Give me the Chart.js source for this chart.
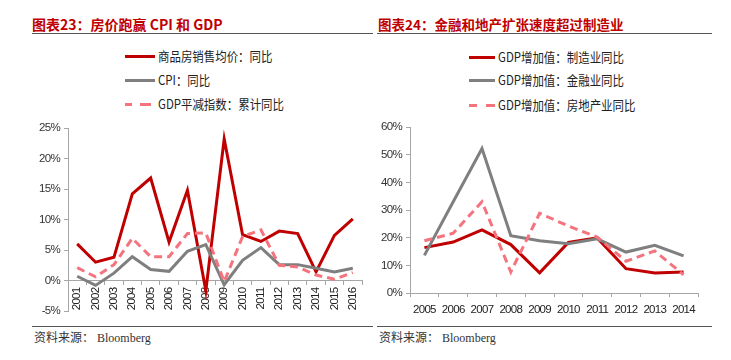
<!DOCTYPE html>
<html><head><meta charset="utf-8">
<script src="https://cdn.jsdelivr.net/npm/chart.js@4.4.1/dist/chart.umd.min.js"></script>
<style>
html,body{margin:0;padding:0;background:#fff;width:731px;height:360px;overflow:hidden;position:relative;font-family:"Noto Sans CJK SC",sans-serif;}
.abs{position:absolute;}
.title{color:#C00000;font-size:14px;line-height:18px;font-weight:bold;white-space:nowrap;font-family:"Noto Sans CJK SC",sans-serif;}
.rule{height:1px;background:#555;}
.leg{font-size:13px;line-height:16px;color:#222;white-space:nowrap;transform:scaleX(0.88);transform-origin:left center;}
.sw{height:0;border-top:3px solid;}
.foot{font-size:12px;line-height:16px;color:#333;white-space:nowrap;font-family:"Liberation Serif","Noto Sans CJK SC",serif;}
</style></head>
<body>
<div class="abs title" style="left:32px;top:15px;">图表23：房价跑赢 CPI 和 GDP</div>
<div class="abs title" style="left:378px;top:15px;font-size:13.5px;">图表24：金融和地产扩张速度超过制造业</div>
<div class="abs rule" style="left:32px;top:33px;width:341px;"></div>
<div class="abs rule" style="left:377px;top:33px;width:335px;"></div>

<div class="abs sw" style="left:125px;top:55px;width:30px;border-color:#C00000;"></div>
<div class="abs leg" style="left:158px;top:48px;">商品房销售均价：同比</div>
<div class="abs sw" style="left:125px;top:79px;width:30px;border-color:#7F7F7F;"></div>
<div class="abs leg" style="left:158px;top:72px;">CPI：同比</div>
<div class="abs sw" style="left:125px;top:103px;width:30px;border-top:3px dashed #F4737D;border-image:repeating-linear-gradient(90deg,#F4737D 0 9px,transparent 9px 15px) 3;"></div>
<div class="abs leg" style="left:158px;top:96px;">GDP平减指数：累计同比</div>

<div class="abs sw" style="left:469px;top:56px;width:26px;border-color:#C00000;"></div>
<div class="abs leg" style="left:498px;top:49px;">GDP增加值：制造业同比</div>
<div class="abs sw" style="left:469px;top:79px;width:26px;border-color:#7F7F7F;"></div>
<div class="abs leg" style="left:498px;top:72px;">GDP增加值：金融业同比</div>
<div class="abs sw" style="left:469px;top:104px;width:26px;border-top:3px dashed #F4737D;border-image:repeating-linear-gradient(90deg,#F4737D 0 9px,transparent 9px 16px) 3;"></div>
<div class="abs leg" style="left:498px;top:97px;">GDP增加值：房地产业同比</div>

<div class="abs" style="left:0;top:110px;width:365px;height:212px;"><canvas id="c1" width="365" height="212"></canvas></div>
<div class="abs" style="left:365px;top:110px;width:366px;height:212px;"><canvas id="c2" width="366" height="212"></canvas></div>

<div class="abs rule" style="left:32px;top:326px;width:341px;"></div>
<div class="abs rule" style="left:377px;top:326px;width:335px;"></div>
<div class="abs foot" style="left:34px;top:330px;">资料来源： Bloomberg</div>
<div class="abs foot" style="left:379px;top:330px;">资料来源： Bloomberg</div>

<script>
// ---- Chart 23 data ----
const yearsLeft = ['2001','2002','2003','2004','2005','2006','2007','2008','2009','2010','2011','2012','2013','2014','2015','2016'];
const housePriceYoY = [6.0, 3.0, 3.8, 14.2, 16.8, 6.3, 14.8, -1.7, 23.2, 7.5, 6.4, 8.1, 7.7, 1.4, 7.4, 10.1];
const cpiYoY = [0.7, -0.8, 1.2, 3.9, 1.8, 1.5, 4.8, 5.9, -0.7, 3.3, 5.4, 2.6, 2.6, 2.0, 1.4, 2.0];
const gdpDeflatorYoY = [2.1, 0.6, 2.6, 6.9, 3.9, 3.9, 7.7, 7.8, -0.2, 7.2, 8.3, 2.5, 2.2, 0.9, 0.2, 1.3];
const leftTicks = [-5, 0, 5, 10, 15, 20, 25];

// ---- Chart 24 data ----
const yearsRight = ['2005','2006','2007','2008','2009','2010','2011','2012','2013','2014'];
const manufacturingYoY = [16.4, 18.4, 22.8, 17.5, 7.3, 18.3, 19.9, 8.8, 7.2, 7.6];
const financeYoY = [13.6, 33.0, 52.2, 20.7, 18.9, 17.8, 19.6, 14.8, 17.2, 13.4];
const realEstateYoY = [18.9, 21.6, 33.0, 7.6, 28.8, 24.2, 20.2, 11.5, 15.2, 6.6];
const rightTicks = [0, 10, 20, 30, 40, 50, 60];

const RED = '#C00000', GRAY = '#7F7F7F', PINK = '#F4737D', AXIS = '#A6A6A6';
const TICKFONT = {family: '"Liberation Sans",sans-serif', size: 11.5};

const narrowText = {
  id: 'narrowText',
  beforeUpdate(chart) { chart.ctx.letterSpacing = '-0.7px'; },
  beforeDraw(chart) { chart.ctx.letterSpacing = '-0.7px'; }
};

function ds(label, data, color, dashed) {
  return {label, data, borderColor: color, backgroundColor: color, borderWidth: 3,
    borderDash: dashed ? [8, 5] : [], pointRadius: 0, tension: 0, fill: false};
}

new Chart(document.getElementById('c1'), {
  type: 'line',
  plugins: [narrowText],
  data: {labels: yearsLeft, datasets: [
    ds('GDP平减指数：累计同比', gdpDeflatorYoY, PINK, true),
    ds('CPI：同比', cpiYoY, GRAY, false),
    ds('商品房销售均价：同比', housePriceYoY, RED, false)
  ]},
  options: {
    responsive: false, animation: false, devicePixelRatio: 1,
    layout: {padding: {left: 0, right: 3, top: 18, bottom: 11}},
    plugins: {legend: {display: false}, tooltip: {enabled: false}},
    scales: {
      y: {min: -5, max: 25, afterBuildTicks: s => { s.ticks = leftTicks.map(v => ({value: v})); },
        afterFit: s => { s.width = 68; s.paddingTop = 0; s.paddingBottom = 0; },
        ticks: {callback: v => v + '%', color: '#333', font: TICKFONT, padding: 4},
        grid: {drawOnChartArea: false, drawTicks: true, tickLength: 4, color: AXIS},
        border: {color: AXIS, width: 1}},
      x: {position: {y: 0}, offset: true,
        afterFit: s => { s.paddingLeft = 0; s.paddingRight = 0; },
        ticks: {minRotation: 90, maxRotation: 90, autoSkip: false, color: '#222', font: TICKFONT, padding: 3},
        grid: {drawOnChartArea: false, drawTicks: true, tickLength: 4, offset: true, color: AXIS},
        border: {color: AXIS, width: 1}}
    }
  }
});

new Chart(document.getElementById('c2'), {
  type: 'line',
  plugins: [narrowText],
  data: {labels: yearsRight, datasets: [
    ds('GDP增加值：房地产业同比', realEstateYoY, PINK, true),
    ds('GDP增加值：金融业同比', financeYoY, GRAY, false),
    ds('GDP增加值：制造业同比', manufacturingYoY, RED, false)
  ]},
  options: {
    responsive: false, animation: false, devicePixelRatio: 1,
    layout: {padding: {left: 0, right: 33, top: 17, bottom: 0}},
    plugins: {legend: {display: false}, tooltip: {enabled: false}},
    scales: {
      y: {min: 0, max: 60, afterBuildTicks: s => { s.ticks = rightTicks.map(v => ({value: v})); },
        afterFit: s => { s.width = 45; s.paddingTop = 0; s.paddingBottom = 0; },
        ticks: {callback: v => v + '%', color: '#333', font: TICKFONT, padding: 4},
        grid: {drawOnChartArea: false, drawTicks: true, tickLength: 4, color: AXIS},
        border: {color: AXIS, width: 1}},
      x: {offset: true,
        afterFit: s => { s.height = 29; s.paddingLeft = 0; s.paddingRight = 0; },
        ticks: {maxRotation: 0, minRotation: 0, autoSkip: false, color: '#222', font: TICKFONT, padding: 6},
        grid: {drawOnChartArea: false, drawTicks: true, tickLength: 4, offset: true, color: AXIS},
        border: {color: AXIS, width: 1}}
    }
  }
});
</script>
</body></html>
